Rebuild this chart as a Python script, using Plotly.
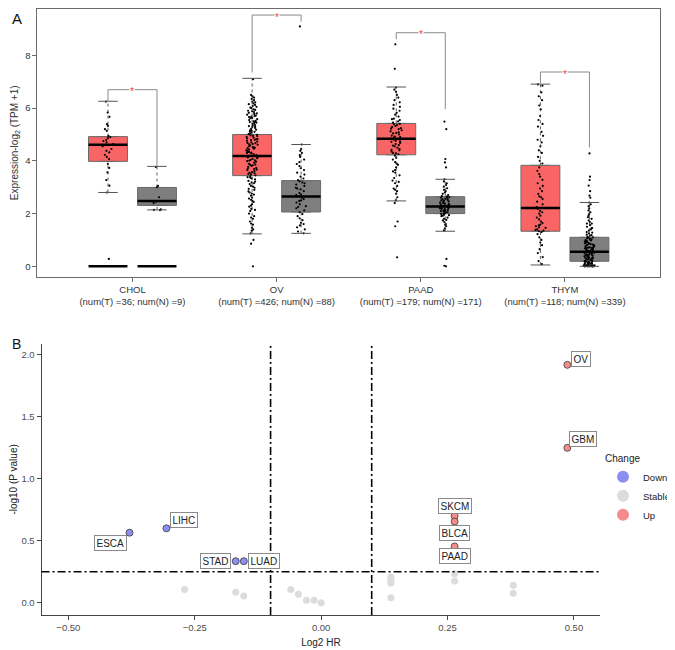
import plotly.graph_objects as go

# ---------------- Panel A data ----------------
cancers = ["CHOL", "OV", "PAAD", "THYM"]
n_tumor = [36, 426, 179, 118]
n_normal = [9, 88, 171, 339]

# box statistics (tumor / normal)
t_q1 = [3.98, 3.44, 4.23, 1.33]
t_med = [4.61, 4.18, 4.84, 2.21]
t_q3 = [4.92, 5.00, 5.42, 3.83]
t_low = [2.80, 1.23, 2.48, 0.05]
t_up = [6.26, 7.13, 6.80, 6.91]

n_q1 = [2.31, 2.06, 2.00, 0.19]
n_med = [2.48, 2.65, 2.27, 0.55]
n_q3 = [2.99, 3.25, 2.64, 1.10]
n_low = [2.14, 1.25, 1.33, 0.00]
n_up = [3.79, 4.62, 3.30, 2.42]

# extra zero-level median bars (CHOL only)
zero_bar_T = [0.0, None, None, None]
zero_bar_N = [0.0, None, None, None]

# significance brackets
sig_top = [6.70, 9.53, 8.86, 7.37]
sig_left_end = [6.28, 7.35, 8.61, 6.93]
sig_right_end = [3.79, 9.28, 5.96, 4.51]

# individual sample values
chol_t = [6.25, 5.83, 5.67, 5.39, 5.33, 5.20, 5.14, 4.95, 4.90, 4.86, 4.79, 4.75, 4.70, 4.64,
          4.60, 4.55, 4.45, 4.38, 4.32, 4.23, 4.15, 4.07, 3.88, 3.73, 3.56, 3.27, 3.06, 2.80, 0.28]
chol_n = [3.77, 3.05, 3.00, 2.62, 2.45, 2.40, 2.16, 2.14, 2.13]
ov_t = [7.10, 6.50, 6.45, 6.35, 6.30, 6.25, 6.22, 6.18, 6.12, 6.08, 6.05, 6.02,
        5.95, 5.90, 5.85, 5.82, 5.78, 5.75, 5.70, 5.66, 5.62, 5.58, 5.55, 5.50, 5.47, 5.43,
        5.40, 5.36, 5.32, 5.28, 5.25, 5.21, 5.18, 5.14, 5.10, 5.07, 5.04, 5.01,
        4.97, 4.94, 4.91, 4.88, 4.85, 4.82, 4.79, 4.76, 4.73, 4.70, 4.67, 4.64, 4.61, 4.58,
        4.55, 4.52, 4.49, 4.46, 4.43, 4.40, 4.37, 4.34, 4.31, 4.28, 4.25, 4.22, 4.19, 4.16,
        4.13, 4.10, 4.07, 4.04, 4.01, 3.97, 3.93, 3.89, 3.85, 3.81, 3.77, 3.73, 3.69, 3.65,
        3.61, 3.57, 3.53, 3.49, 3.45, 3.41, 3.36, 3.30, 3.24, 3.18, 3.12, 3.05, 2.98, 2.90,
        2.84, 2.76, 2.68, 2.60, 2.52, 2.44, 2.35, 2.26, 2.18, 2.10, 2.00, 1.90, 1.80, 1.70,
        1.58, 1.46, 1.35, 1.25, 1.00, 0.86, 0.00,
        5.93, 5.72, 5.52, 5.34, 5.16, 4.99, 4.83, 4.68, 4.50, 4.33, 4.17, 4.02, 3.86, 3.70,
        3.55, 3.38, 3.21, 3.02, 2.80, 2.57, 2.30, 6.40, 6.15, 6.00, 5.80, 5.63, 5.45,
        5.88, 5.68, 5.48, 5.30, 5.12, 4.95, 4.80, 4.63, 4.47, 4.30, 4.14, 3.99, 3.83, 3.67,
        3.50, 3.33, 3.15, 2.94, 2.72, 2.48, 2.14, 1.85, 1.62, 1.40]
ov_n = [4.62, 4.45, 4.38, 4.30, 4.22, 4.15, 4.05, 3.95, 3.88, 3.80, 3.72, 3.65, 3.55, 3.48,
        3.40, 3.33, 3.27, 3.22, 3.15, 3.10, 3.05, 2.98, 2.92, 2.85, 2.78, 2.72, 2.66, 2.60,
        2.55, 2.48, 2.42, 2.35, 2.28, 2.20, 2.12, 2.05, 1.98, 1.90, 1.82, 1.75, 1.65, 1.55,
        1.48, 1.40, 1.32, 1.25, 9.10, 3.18, 2.95, 2.70, 2.50, 2.25, 1.60]
paad_t = [8.42, 7.49, 6.78, 6.70, 6.62, 6.50, 6.40, 6.30, 6.22, 6.12, 6.05, 5.98, 5.90, 5.82,
          5.75, 5.68, 5.60, 5.55, 5.50, 5.45, 5.40, 5.36, 5.32, 5.28, 5.24, 5.20, 5.16, 5.12,
          5.08, 5.04, 5.00, 4.96, 4.92, 4.88, 4.84, 4.80, 4.76, 4.72, 4.68, 4.64, 4.60, 4.55,
          4.50, 4.45, 4.40, 4.35, 4.30, 4.25, 4.20, 4.12, 4.05, 3.95, 3.85, 3.75, 3.65, 3.55,
          3.45, 3.35, 3.25, 3.15, 3.05, 2.95, 2.85, 2.75, 2.62, 2.50, 2.40, 1.70, 1.52, 0.34,
          5.58, 5.38, 5.22, 5.06, 4.90, 4.74, 4.58, 4.42, 4.28, 3.90, 3.60, 3.20, 2.90]
paad_n = [5.49, 5.20, 4.07, 3.94, 3.75, 3.30, 3.22, 3.15, 3.08, 3.02, 2.96, 2.90, 2.85, 2.80,
          2.75, 2.70, 2.66, 2.62, 2.58, 2.54, 2.50, 2.46, 2.42, 2.38, 2.35, 2.32, 2.29, 2.26,
          2.23, 2.20, 2.17, 2.14, 2.11, 2.08, 2.05, 2.02, 1.98, 1.94, 1.90, 1.85, 1.80, 1.74,
          1.68, 1.60, 1.52, 1.44, 1.36, 0.28, 0.02, 0.00,
          2.64, 2.56, 2.44, 2.36, 2.30, 2.24, 2.18, 2.12, 2.06, 2.00, 1.96, 2.52, 2.40, 2.27,
          2.60, 2.48, 2.34, 2.21, 2.09, 1.92, 1.76, 1.57]
thym_t = [6.90, 6.85, 6.60, 6.45, 6.30, 6.10, 5.95, 5.70, 5.55, 5.40, 5.30, 5.10, 4.95, 4.80,
          4.70, 4.55, 4.40, 4.30, 4.15, 4.00, 3.90, 3.75, 3.62, 3.50, 3.40, 3.28, 3.15, 3.05,
          2.95, 2.85, 2.75, 2.65, 2.55, 2.45, 2.35, 2.25, 2.18, 2.10, 2.00, 1.92, 1.85, 1.78,
          1.70, 1.64, 1.58, 1.52, 1.46, 1.40, 1.35, 1.30, 1.22, 1.10, 1.00, 0.90, 0.80, 0.65,
          0.50, 0.35, 0.20, 0.08, 1.48, 1.38, 1.33, 1.55, 2.05, 2.62]
thym_n = [4.28, 3.40, 3.27, 3.06, 2.85, 2.68, 2.60, 2.42, 2.35, 2.28, 2.20, 2.12, 2.05, 1.98,
          1.92, 1.86, 1.80, 1.74, 1.68, 1.62, 1.56, 1.50, 1.45, 1.40, 1.35, 1.30, 1.25, 1.20,
          1.16, 1.12, 1.08, 1.04, 1.00, 0.96, 0.92, 0.88, 0.84, 0.80, 0.76, 0.72, 0.68, 0.64,
          0.60, 0.56, 0.52, 0.48, 0.44, 0.40, 0.36, 0.32, 0.28, 0.25, 0.22, 0.19, 0.16, 0.13,
          0.10, 0.08, 0.06, 0.04, 0.03, 0.02, 0.01, 0.00, 0.00, 0.00, 0.00,
          1.02, 0.94, 0.86, 0.78, 0.70, 0.62, 0.54, 0.46, 0.38, 0.30, 0.20, 0.12, 0.05, 0.02,
          0.98, 0.90, 0.82, 0.74, 0.66, 0.58, 0.50, 0.42, 0.34, 0.24, 0.15, 0.07, 0.01, 0.00,
          1.10, 1.06, 0.99, 0.93, 0.87, 0.81, 0.75, 0.69, 0.63, 0.57, 0.51, 0.45, 0.39, 0.33,
          0.27, 0.21, 0.14, 0.09, 0.04, 0.00, 1.62, 1.44, 1.28, 1.18, 0.71, 0.55, 0.43, 0.31,
          0.18, 0.11, 0.03, 0.00, 0.00]
tumor_points = [chol_t, ov_t, paad_t, thym_t]
normal_points = [chol_n, ov_n, paad_n, thym_n]

# ---------------- Panel B data ----------------
labels_b = ["ESCA", "LIHC", "STAD", "LUAD", "OV", "GBM", "SKCM", "BLCA", "PAAD"]
hr_b = [-0.379, -0.306, -0.169, -0.153, 0.487, 0.487, 0.264, 0.264, 0.264]
p_b = [0.565, 0.600, 0.335, 0.335, 1.92, 1.25, 0.700, 0.655, 0.454]
change_b = ["Down", "Down", "Down", "Down", "Up", "Up", "Up", "Up", "Up"]
stable_hr = [-0.270, -0.169, -0.153, -0.060, -0.045, -0.029, -0.014, 0.000,
             0.138, 0.138, 0.138, 0.138, 0.264, 0.264, 0.380, 0.380]
stable_p = [0.107, 0.085, 0.053, 0.107, 0.067, 0.019, 0.019, 0.000,
            0.207, 0.185, 0.158, 0.040, 0.234, 0.174, 0.140, 0.077]
hr_cut = 0.1
p_cut = 0.25

# ---------------- styling ----------------
FONT = "Liberation Sans, Arial, sans-serif"
RED_BOX = "#F96464"
GREY_BOX = "#7E7E7E"
OFF = 0.17
BW = 0.27
col_down = "#8E8EF2"
col_stable = "#DCDCDC"
col_up = "#F48C8C"
W, H = 667, 642   # page body has an 8px margin; figure fills the rest of the window
TICK_FS = 9.5

fig = go.Figure()

t_pos = [i - OFF for i in range(len(cancers))]
n_pos = [i + OFF for i in range(len(cancers))]

# boxes (whiskers drawn separately in R style)
for pos, q1, med, q3, col in [(t_pos, t_q1, t_med, t_q3, RED_BOX), (n_pos, n_q1, n_med, n_q3, GREY_BOX)]:
    fig.add_trace(go.Box(x=pos, q1=q1, median=med, q3=q3, lowerfence=q1, upperfence=q3,
                         orientation="v", width=BW, fillcolor=col,
                         line=dict(color="#6a6a6a", width=1), boxpoints=False,
                         showlegend=False, hoverinfo="skip", xaxis="x", yaxis="y"))

# whiskers (dotted) and caps
wx, wy, cx, cy = [], [], [], []
for pos, q1, q3, lo, up in [(t_pos, t_q1, t_q3, t_low, t_up), (n_pos, n_q1, n_q3, n_low, n_up)]:
    for p, a, b, l, u in zip(pos, q1, q3, lo, up):
        wx += [p, p, None, p, p, None]
        wy += [b, u, None, l, a, None]
        cx += [p - BW / 4, p + BW / 4, None, p - BW / 4, p + BW / 4, None]
        cy += [u, u, None, l, l, None]
fig.add_trace(go.Scatter(x=wx, y=wy, mode="lines", line=dict(color="#333", width=0.8, dash="dot"),
                         showlegend=False, hoverinfo="skip", xaxis="x", yaxis="y"))

# jittered points
for pos, pts in [(t_pos, tumor_points), (n_pos, normal_points)]:
    for p, vals in zip(pos, pts):
        fig.add_trace(go.Box(x=[p] * len(vals), y=vals, boxpoints="all", jitter=0.3, pointpos=0,
                             width=BW, fillcolor="rgba(0,0,0,0)",
                             line=dict(color="rgba(0,0,0,0)", width=0),
                             marker=dict(color="black", size=2.2),
                             showlegend=False, hoverinfo="skip", xaxis="x", yaxis="y"))

fig.add_trace(go.Scatter(x=cx, y=cy, mode="lines", line=dict(color="#555", width=1),
                         showlegend=False, hoverinfo="skip", xaxis="x", yaxis="y"))

# medians (thick black)
mx, my = [], []
for pos, med in [(t_pos, t_med), (n_pos, n_med), (t_pos, zero_bar_T), (n_pos, zero_bar_N)]:
    for p, m in zip(pos, med):
        if m is None:
            continue
        mx += [p - BW / 2, p + BW / 2, None]
        my += [m, m, None]
fig.add_trace(go.Scatter(x=mx, y=my, mode="lines", line=dict(color="black", width=2.5),
                         showlegend=False, hoverinfo="skip", xaxis="x", yaxis="y"))

# significance brackets
bx, by = [], []
for tp, np_, top, le, re in zip(t_pos, n_pos, sig_top, sig_left_end, sig_right_end):
    bx += [tp, tp, np_, np_, None]
    by += [le, top, top, re, None]
fig.add_trace(go.Scatter(x=bx, y=by, mode="lines", line=dict(color="#8a8a8a", width=1),
                         showlegend=False, hoverinfo="skip", xaxis="x", yaxis="y"))

annotations = []
for tp, np_, top in zip(t_pos, n_pos, sig_top):
    annotations.append(dict(x=(tp + np_) / 2, y=top, xref="x", yref="y", text="*",
                            showarrow=False, font=dict(color="#F03C3C", size=10, family=FONT),
                            bgcolor="white", borderpad=0, yshift=-2, xanchor="center", yanchor="middle"))

# ---------------- Panel B ----------------
fig.add_trace(go.Scatter(x=stable_hr, y=stable_p, mode="markers",
                         marker=dict(color=col_stable, size=7, line=dict(width=0)),
                         showlegend=False, hoverinfo="skip", xaxis="x2", yaxis="y2"))
for ch, col in [("Down", col_down), ("Up", col_up)]:
    xs = [h for h, c in zip(hr_b, change_b) if c == ch]
    ys = [p for p, c in zip(p_b, change_b) if c == ch]
    fig.add_trace(go.Scatter(x=xs, y=ys, mode="markers",
                             marker=dict(color=col, size=7, line=dict(color="#3a3a3a", width=0.8)),
                             showlegend=False, hoverinfo="skip", xaxis="x2", yaxis="y2"))
# legend-only entries
for ch, col in [("Down", col_down), ("Stable", col_stable), ("Up", col_up)]:
    fig.add_trace(go.Scatter(x=[None], y=[None], mode="markers", name=ch,
                             marker=dict(color=col, size=9), xaxis="x2", yaxis="y2"))

label_offsets = {"ESCA": (-19, -10), "LIHC": (18, 8), "STAD": (-20, 0), "LUAD": (20, 0),
                 "OV": (14, 6), "GBM": (16, 9), "SKCM": (0, 10), "BLCA": (0, -11), "PAAD": (0, -10)}
for lab, h, p in zip(labels_b, hr_b, p_b):
    dx, dy = label_offsets[lab]
    if lab == "GBM":
        annotations.append(dict(x=h, y=p, xref="x2", yref="y2", text=lab, showarrow=True,
                                ax=dx, ay=-dy, arrowhead=0, arrowwidth=0.8, arrowcolor="#333",
                                standoff=2, font=dict(size=10, family=FONT, color="#222"),
                                bgcolor="white", bordercolor="#8a8a8a", borderwidth=1, borderpad=1.5))
    else:
        annotations.append(dict(x=h, y=p, xref="x2", yref="y2", text=lab, showarrow=False,
                                xshift=dx, yshift=dy, font=dict(size=10, family=FONT, color="#222"),
                                bgcolor="white", bordercolor="#8a8a8a", borderwidth=1, borderpad=1.5))

annotations.append(dict(x=0.0, y=1.0, xref="paper", yref="paper", text="A", showarrow=False,
                        xanchor="left", yanchor="top", borderpad=0,
                        font=dict(size=15, family=FONT, color="#111")))
annotations.append(dict(x=0.0, y=1 - 327 / H, xref="paper", yref="paper", text="B", showarrow=False,
                        xanchor="left", yanchor="top", borderpad=0,
                        font=dict(size=14, family=FONT, color="#111")))

DASH = "8px,3px,2px,3px"
shapes = [
    dict(type="line", xref="x2", yref="y2 domain", x0=-hr_cut, x1=-hr_cut, y0=0, y1=1,
         line=dict(color="black", width=1.6, dash=DASH)),
    dict(type="line", xref="x2", yref="y2 domain", x0=hr_cut, x1=hr_cut, y0=0, y1=1,
         line=dict(color="black", width=1.6, dash=DASH)),
    dict(type="line", xref="x2 domain", yref="y2", x0=0, x1=1, y0=p_cut, y1=p_cut,
         line=dict(color="black", width=1.6, dash=DASH)),
]

tick_text_a = [f"{c}<br>(num(T) ={t}; num(N) ={n})" for c, t, n in zip(cancers, n_tumor, n_normal)]

fig.update_layout(
    width=W, height=H, autosize=False,
    margin=dict(l=0, r=0, t=0, b=0),
    paper_bgcolor="white", plot_bgcolor="white",
    font=dict(family=FONT, size=10, color="#333"),
    boxmode="overlay",
    xaxis=dict(domain=[27 / W, 665 / W], anchor="y", range=[-0.66, 3.66],
               tickvals=list(range(len(cancers))), ticktext=tick_text_a,
               showline=True, mirror=True, linecolor="#6a6a6a", linewidth=1,
               ticks="outside", ticklen=4, tickcolor="#6a6a6a",
               showgrid=False, zeroline=False, tickfont=dict(size=TICK_FS, color="#333")),
    yaxis=dict(domain=[1 - 268 / H, 1.0], anchor="x", range=[-0.39, 9.76],
               tickvals=[0, 2, 4, 6, 8], showline=True, mirror=True, linecolor="#6a6a6a",
               linewidth=1, ticks="outside", ticklen=4, tickcolor="#6a6a6a",
               showgrid=False, zeroline=False, tickfont=dict(size=TICK_FS, color="#333"),
               title=dict(text="Expression-log<sub>2</sub> (TPM +1)", font=dict(size=10, color="#333"),
                          standoff=4)),
    xaxis2=dict(domain=[31.3 / W, 603.7 / W], anchor="y2", range=[-0.553, 0.552],
                tickvals=[-0.5, -0.25, 0, 0.25, 0.5], tickformat=".2f",
                showline=True, linecolor="#444", linewidth=1, ticks="outside", ticklen=4,
                tickcolor="#444", showgrid=False, zeroline=False,
                tickfont=dict(size=TICK_FS, color="#4d4d4d"),
                title=dict(text="Log2 HR", font=dict(size=10, color="#222"), standoff=6)),
    yaxis2=dict(domain=[1 - 607 / H, 1 - 335.3 / H], anchor="x2", range=[-0.10, 2.09],
                tickvals=[0, 0.5, 1.0, 1.5, 2.0], tickformat=".1f",
                showline=True, linecolor="#444", linewidth=1, ticks="outside", ticklen=4,
                tickcolor="#444", showgrid=False, zeroline=False,
                tickfont=dict(size=TICK_FS, color="#4d4d4d"),
                title=dict(text="-log10 (P value)", font=dict(size=10, color="#222"), standoff=6)),
    legend=dict(title=dict(text="Change", font=dict(size=10, color="#222")),
                x=607 / W, y=1 - 441 / H, xanchor="left", yanchor="top",
                font=dict(size=9.5, color="#222"), bgcolor="rgba(0,0,0,0)",
                tracegroupgap=0, itemsizing="constant"),
    annotations=annotations,
    shapes=shapes,
)

fig.write_html("out.html")
